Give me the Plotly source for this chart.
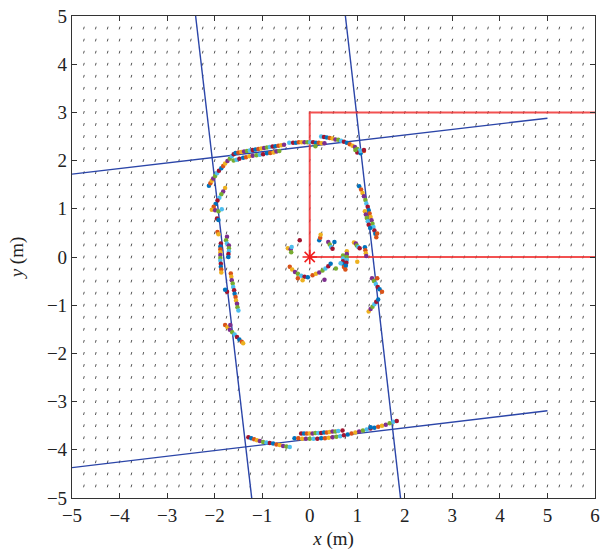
import numpy as np
import plotly.graph_objects as go

# ---------------- data ----------------
# tiny-arrow field grid (quiver positions)
grid_step = 0.25
field_x_range = [-4.75, 5.75]
field_y_range = [-4.75, 4.75]

# estimated walls (blue lines): endpoints
wall_left_x = [-2.40, -1.22]
wall_left_y = [5.0, -5.0]
wall_right_x = [0.75, 1.91]
wall_right_y = [5.0, -5.0]
wall_top_x = [-5.0, 5.0]
wall_top_y = [1.72, 2.88]
wall_bottom_x = [-5.0, 5.0]
wall_bottom_y = [-4.37, -3.19]

# robot path (red)
path_x = [6.0, 0.0, 0.0, 6.0]
path_y = [3.0, 3.0, 0.0, 0.0]
robot_x = [0.0]
robot_y = [0.0]

# measured points
top_x = [-2.12, -2.09, -2.06, -2.03, -1.99, -1.95, -1.91, -1.86, -1.82, -1.78, -1.73, -1.68, -1.64, -1.60,
         -1.56, -1.50, -1.44, -1.38, -1.32, -1.26, -1.20, -1.14, -1.08, -1.02, -0.96, -0.90, -0.84, -0.78, -0.72, -0.66, -0.60, -0.54,
         -1.60, -1.54, -1.48, -1.40, -1.34, -1.27, -1.20, -1.12, -1.05, -0.98, -0.90, -0.83, -0.76, -0.70, -0.64,
         -0.43, -0.35, -0.29, -0.23, -0.17, -0.11, -0.05, 0.01, 0.07, 0.13, 0.19, 0.25, 0.31, 0.12,
         0.24, 0.30, 0.36, 0.42, 0.48, 0.54, 0.60, 0.66, 0.72, 0.78, 0.84, 0.90, 0.95, 1.00, 1.05, 1.00, 1.07, 1.14]
top_y = [1.48, 1.53, 1.58, 1.63, 1.68, 1.74, 1.79, 1.84, 1.89, 1.94, 1.99, 2.04, 2.09, 2.13,
         2.16, 2.17, 2.18, 2.19, 2.20, 2.21, 2.22, 2.23, 2.24, 2.25, 2.26, 2.27, 2.28, 2.29, 2.30, 2.31, 2.32, 2.33,
         2.00, 2.02, 2.04, 2.06, 2.07, 2.09, 2.10, 2.11, 2.12, 2.13, 2.15, 2.16, 2.17, 2.19, 2.20,
         2.37, 2.37, 2.37, 2.38, 2.38, 2.38, 2.38, 2.38, 2.38, 2.37, 2.37, 2.36, 2.36, 2.30,
         2.50, 2.49, 2.48, 2.47, 2.46, 2.44, 2.43, 2.41, 2.39, 2.37, 2.34, 2.31, 2.28, 2.24, 2.21, 2.17, 2.15, 2.20]

left_x = [-1.78, -1.82, -1.86, -1.90, -1.94, -1.98, -2.02, -2.06, -1.99, -1.92, -1.85,
          -1.95, -1.92, -1.94, -1.92,
          -1.74, -1.76, -1.74,
          -1.87, -1.88, -1.88, -1.88, -1.88, -1.88, -1.88, -1.87, -1.87, -1.86, -1.86,
          -1.70, -1.70, -1.70, -1.71, -1.71,
          -1.66, -1.65, -1.64, -1.62, -1.61, -1.59, -1.58, -1.56, -1.55, -1.53, -1.52, -1.50,
          -1.74, -1.78,
          -1.78, -1.73, -1.68, -1.63, -1.58, -1.53, -1.48, -1.43, -1.40, -1.67]
left_y = [1.43, 1.36, 1.30, 1.23, 1.17, 1.10, 1.04, 0.98, 0.97, 0.95, 0.99,
          0.80, 0.77, 0.52, 0.47,
          0.42, 0.35, 0.28,
          0.28, 0.22, 0.16, 0.10, 0.04, -0.02, -0.08, -0.14, -0.20, -0.26, -0.32,
          0.24, 0.18, 0.12, 0.06, 0.00,
          -0.34, -0.41, -0.48, -0.55, -0.62, -0.69, -0.76, -0.83, -0.90, -0.97, -1.04, -1.11,
          -0.72, -0.68,
          -1.41, -1.46, -1.51, -1.56, -1.61, -1.66, -1.71, -1.76, -1.79, -1.41]

right_x = [0.96, 1.07, 1.14,
           1.04, 1.08, 1.11, 1.14, 1.17, 1.19, 1.22, 1.24, 1.26, 1.28, 1.30, 1.32, 1.34, 1.36, 1.38, 1.40,
           1.16, 1.18, 1.20, 1.22, 1.24, 1.27, 1.42,
           0.93, 0.97, 0.99, 1.02, 1.05,
           1.16, 1.17, 1.18, 1.19,
           0.70, 0.70, 0.70, 0.71, 0.72, 0.78, 0.78, 0.78, 0.78, 0.77, 0.76, 0.75, 1.00,
           1.31, 1.35, 1.39, 1.43, 1.47, 1.42,
           1.24, 1.28, 1.32, 1.36, 1.40, 1.44, 1.52]
right_y = [2.22, 2.20, 2.22,
           1.47, 1.40, 1.33, 1.26, 1.18, 1.11, 1.04, 0.97, 0.90, 0.83, 0.76, 0.69, 0.62, 0.55, 0.48, 0.41,
           0.95, 0.88, 0.81, 0.74, 0.67, 0.60, 0.49,
           0.30, 0.28, 0.24, 0.21, 0.18,
           0.20, 0.14, 0.08, 0.02,
           0.03, -0.03, -0.09, -0.15, -0.21, 0.12, 0.06, 0.00, -0.06, -0.12, -0.18, -0.26, -0.10,
           -0.44, -0.50, -0.56, -0.62, -0.67, -0.44,
           -1.13, -1.08, -1.03, -0.98, -0.93, -0.88, -0.72]

center_x = [-0.46, -0.40, -0.39, -0.38, -0.21,
            0.20, 0.22, 0.23, 0.39, 0.42, 0.45, 0.48, 0.52,
            -0.42, -0.37, -0.31, -0.25, -0.18, -0.11, -0.04,
            0.06, 0.13, 0.20, 0.27, 0.33, 0.39, 0.44,
            -0.25, -0.15, 0.31, 0.55, 0.65]
center_y = [0.18, 0.16, 0.10, 0.21, 0.35,
            0.35, 0.40, 0.46, 0.31, 0.26, 0.21, 0.17, 0.31,
            -0.20, -0.26, -0.31, -0.35, -0.39, -0.41, -0.42,
            -0.38, -0.35, -0.32, -0.28, -0.24, -0.19, -0.14,
            -0.44, -0.48, -0.47, -0.24, -0.13]

bottom_x = [-1.29, -1.23, -1.17, -1.11, -1.05, -0.98, -0.91, -0.84, -0.77, -0.70, -0.63, -0.56, -0.49, -0.42,
            -0.18, -0.12, -0.06, 0.00, 0.06, 0.12, 0.18, 0.24, 0.30, 0.36, 0.42, 0.48, 0.54, 0.60, 0.69,
            -0.32, -0.24, -0.16, -0.08, 0.00, 0.08, 0.16, 0.24, 0.32, 0.40, 0.48, 0.56, 0.64, 0.72, 0.80,
            0.88, 0.96, 1.04, 1.12, 1.20, 1.28, 1.36, 1.44, 1.52, 1.60, 1.68, 1.76, 1.83, 1.28]
bottom_y = [-3.74, -3.76, -3.78, -3.80, -3.82, -3.84, -3.85, -3.86, -3.87, -3.89, -3.90, -3.92, -3.93, -3.94,
            -3.66, -3.66, -3.66, -3.66, -3.66, -3.65, -3.65, -3.65, -3.64, -3.64, -3.63, -3.62, -3.62, -3.61, -3.60,
            -3.76, -3.76, -3.77, -3.77, -3.77, -3.77, -3.77, -3.76, -3.76, -3.75, -3.74, -3.73, -3.72, -3.70, -3.68,
            -3.66, -3.64, -3.62, -3.60, -3.58, -3.56, -3.54, -3.52, -3.50, -3.48, -3.45, -3.42, -3.40, -3.53]

x_ticks = [-5, -4, -3, -2, -1, 0, 1, 2, 3, 4, 5, 6]
y_ticks = [-5, -4, -3, -2, -1, 0, 1, 2, 3, 4, 5]

# ---------------- figure ----------------
palette = ["#0072BD", "#D95319", "#EDB120", "#7E2F8E", "#77AC30", "#4DBEEE", "#A2142F"]
serif = "Liberation Serif, DejaVu Serif, serif"

fig = go.Figure()

gx = np.arange(field_x_range[0], field_x_range[1] + 1e-9, grid_step)
gy = np.arange(field_y_range[0], field_y_range[1] + 1e-9, grid_step)
GX, GY = np.meshgrid(gx, gy)
fig.add_trace(go.Scatter(
    x=GX.ravel(), y=GY.ravel(), mode="markers",
    marker=dict(symbol="line-ns", size=2, angle=15,
                line=dict(width=1, color="#555555")),
    hoverinfo="skip", showlegend=False))

blue = "#2B45A8"
for wx, wy in [(wall_left_x, wall_left_y), (wall_right_x, wall_right_y),
               (wall_top_x, wall_top_y), (wall_bottom_x, wall_bottom_y)]:
    fig.add_trace(go.Scatter(x=wx, y=wy, mode="lines",
                             line=dict(color=blue, width=1.4),
                             showlegend=False, hoverinfo="skip"))

fig.add_trace(go.Scatter(x=path_x, y=path_y, mode="lines",
                         line=dict(color="rgba(240,50,50,0.85)", width=2),
                         showlegend=False, hoverinfo="skip"))

pts_x = top_x + left_x + right_x + center_x + bottom_x
pts_y = top_y + left_y + right_y + center_y + bottom_y
cols = [palette[i % len(palette)] for i in range(len(pts_x))]
fig.add_trace(go.Scatter(x=pts_x, y=pts_y, mode="markers",
                         marker=dict(symbol="circle", size=4.5, color=cols, line=dict(width=0)),
                         showlegend=False))

fig.add_trace(go.Scatter(x=robot_x, y=robot_y, mode="markers",
                         marker=dict(symbol="asterisk", size=12,
                                     line=dict(width=1.6, color="#F02020")),
                         showlegend=False))

axis_common = dict(showgrid=False, zeroline=False, showline=True, linecolor="#333333",
                   linewidth=1.2, mirror="ticks", ticks="inside", ticklen=5,
                   tickcolor="#333333", tickwidth=1.2,
                   tickfont=dict(family=serif, size=19, color="#222222"))

fig.update_xaxes(range=[-5, 6], tickvals=x_ticks, title=dict(
    text="<i>x</i> (m)", font=dict(family=serif, size=19, color="#222222"), standoff=6),
    **axis_common)
fig.update_yaxes(range=[-5, 5], tickvals=y_ticks, title=dict(
    text="<i>y</i> (m)", font=dict(family=serif, size=19, color="#222222"), standoff=18),
    **axis_common)

fig.update_layout(width=605, height=554, margin=dict(l=72, r=5, t=16, b=56),
                  plot_bgcolor="white", paper_bgcolor="white")

fig.write_html("out.html")
